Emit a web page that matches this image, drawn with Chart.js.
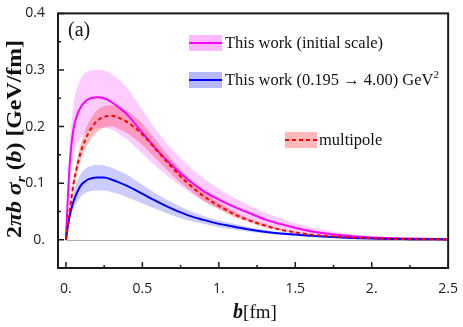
<!DOCTYPE html>
<html>
<head>
<meta charset="utf-8">
<script src="https://cdn.jsdelivr.net/npm/chart.js@4.4.1/dist/chart.umd.min.js"></script>
<style>
html, body { margin: 0; padding: 0; background: #fff; }
</style>
</head>
<body>
<canvas id="myChart" width="463" height="327"></canvas>
<script>
// impact parameter b [fm]
const bValues = [0, 0.0125, 0.025, 0.0375, 0.05, 0.075, 0.1, 0.125, 0.15, 0.2, 0.25, 0.3, 0.35, 0.4, 0.5, 0.6, 0.7, 0.8, 0.9, 1.0, 1.1, 1.2, 1.3, 1.4, 1.5, 1.6, 1.8, 2.0, 2.25, 2.5];

// This work (initial scale)
const initialCentral = [0, 0.075, 0.135, 0.172, 0.197, 0.222, 0.236, 0.244, 0.249, 0.252, 0.250, 0.243, 0.233, 0.221, 0.189, 0.157, 0.130, 0.106, 0.086, 0.071, 0.058, 0.047, 0.036, 0.028, 0.021, 0.015, 0.008, 0.004, 0.002, 0.001];
const initialUpper = [0, 0.095, 0.170, 0.210, 0.240, 0.270, 0.286, 0.294, 0.298, 0.300, 0.299, 0.292, 0.282, 0.268, 0.229, 0.190, 0.158, 0.131, 0.108, 0.090, 0.074, 0.060, 0.048, 0.038, 0.029, 0.022, 0.012, 0.006, 0.003, 0.0012];
const initialLower = [0, 0.055, 0.100, 0.130, 0.150, 0.170, 0.181, 0.188, 0.192, 0.197, 0.198, 0.195, 0.187, 0.177, 0.152, 0.127, 0.105, 0.085, 0.068, 0.055, 0.044, 0.035, 0.027, 0.020, 0.015, 0.011, 0.006, 0.003, 0.001, 0.0005];

// multipole
const multipoleCentral = [0, 0.028, 0.052, 0.077, 0.100, 0.132, 0.158, 0.176, 0.190, 0.209, 0.217, 0.219, 0.215, 0.208, 0.186, 0.156, 0.126, 0.099, 0.077, 0.060, 0.045, 0.034, 0.025, 0.018, 0.013, 0.009, 0.005, 0.0025, 0.001, 0.0005];
const multipoleUpper = [0, 0.031, 0.058, 0.085, 0.110, 0.145, 0.172, 0.192, 0.208, 0.228, 0.236, 0.238, 0.235, 0.228, 0.205, 0.172, 0.139, 0.109, 0.085, 0.066, 0.050, 0.037, 0.028, 0.020, 0.014, 0.010, 0.0055, 0.003, 0.0011, 0.0006];
const multipoleLower = [0, 0.025, 0.046, 0.069, 0.090, 0.119, 0.144, 0.161, 0.172, 0.190, 0.198, 0.200, 0.195, 0.188, 0.167, 0.140, 0.113, 0.089, 0.069, 0.054, 0.040, 0.031, 0.022, 0.016, 0.012, 0.008, 0.0045, 0.002, 0.0009, 0.0004];

// This work (0.195 -> 4.00) GeV^2
const evolvedCentral = [0, 0.024, 0.043, 0.057, 0.068, 0.085, 0.097, 0.103, 0.107, 0.110, 0.110, 0.106, 0.101, 0.095, 0.081, 0.067, 0.054, 0.043, 0.035, 0.028, 0.023, 0.018, 0.014, 0.011, 0.009, 0.007, 0.004, 0.002, 0.001, 0.0005];
const evolvedUpper = [0, 0.027, 0.050, 0.068, 0.085, 0.104, 0.118, 0.125, 0.129, 0.132, 0.131, 0.127, 0.121, 0.115, 0.097, 0.080, 0.065, 0.052, 0.042, 0.034, 0.028, 0.022, 0.017, 0.013, 0.011, 0.008, 0.005, 0.003, 0.0015, 0.0007];
const evolvedLower = [0, 0.020, 0.036, 0.047, 0.055, 0.068, 0.077, 0.082, 0.085, 0.087, 0.087, 0.084, 0.080, 0.075, 0.064, 0.053, 0.043, 0.034, 0.028, 0.022, 0.018, 0.014, 0.011, 0.009, 0.007, 0.005, 0.003, 0.0015, 0.0007, 0.0003];

// axes
const xTicks = [0, 0.5, 1, 1.5, 2, 2.5];
const xTickLabels = ['0.', '0.5', '1.', '1.5', '2.', '2.5'];
const xMinorTicks = [0.25, 0.75, 1.25, 1.75, 2.25];
const yTicks = [0, 0.1, 0.2, 0.3, 0.4];
const yTickLabels = ['0.', '0.1', '0.2', '0.3', '0.4'];
const yMinorTicks = [0.05, 0.15, 0.25, 0.35];

const PINK = 'rgba(255, 0, 255, 0.2)';
const SALMON = 'rgba(255, 0, 0, 0.25)';
const LILAC = 'rgba(0, 0, 255, 0.2)';
const SERIF = '"Liberation Serif", "DejaVu Serif", serif';
const SANS = '"Open Sans", "Noto Sans", sans-serif';

function points(ys) {
    return bValues.map((b, i) => ({ x: b, y: ys[i] }));
}

function band(ys, color, fill, order) {
    return {
        data: points(ys),
        borderWidth: 0,
        backgroundColor: color,
        fill: fill,
        pointRadius: 0,
        cubicInterpolationMode: 'monotone',
        order
    };
}

function line(ys, color, order, dash) {
    return {
        data: points(ys),
        borderColor: color,
        borderWidth: 2,
        borderDash: dash || [],
        fill: false,
        pointRadius: 0,
        cubicInterpolationMode: 'monotone',
        order
    };
}

// draws text pieces one after another: [text, font, dy]
function drawRich(ctx, pieces, x, y) {
    let cx = x;
    pieces.forEach(([t, font, dy]) => {
        ctx.font = font;
        ctx.fillText(t, cx, y + (dy || 0));
        cx += ctx.measureText(t).width;
    });
    return cx - x;
}

function richWidth(ctx, pieces) {
    let w = 0;
    pieces.forEach(([t, font]) => { ctx.font = font; w += ctx.measureText(t).width; });
    return w;
}

const decorPlugin = {
    id: 'decor',
    beforeDatasetsDraw(chart) {
        const { ctx, scales: { x, y } } = chart;
        ctx.save();
        ctx.strokeStyle = '#b0b0b0';
        ctx.lineWidth = 1;
        const y0 = Math.round(y.getPixelForValue(0)) + 0.5;
        ctx.beginPath();
        ctx.moveTo(x.getPixelForValue(0), y0);
        ctx.lineTo(x.getPixelForValue(2.5), y0);
        ctx.stroke();
        ctx.restore();
    },
    afterDraw(chart) {
        const { ctx, chartArea: a, scales: { x, y } } = chart;
        ctx.save();
        // frame
        ctx.strokeStyle = '#1a1a1a';
        ctx.lineWidth = 2;
        ctx.strokeRect(a.left, a.top, a.right - a.left, a.bottom - a.top);

        // inward ticks
        ctx.lineWidth = 1.5;
        ctx.beginPath();
        xTicks.forEach(v => { const px = x.getPixelForValue(v); ctx.moveTo(px, a.bottom); ctx.lineTo(px, a.bottom - 6); });
        xMinorTicks.forEach(v => { const px = x.getPixelForValue(v); ctx.moveTo(px, a.bottom); ctx.lineTo(px, a.bottom - 3); });
        yTicks.forEach(v => { const py = y.getPixelForValue(v); ctx.moveTo(a.left, py); ctx.lineTo(a.left + 6, py); });
        yMinorTicks.forEach(v => { const py = y.getPixelForValue(v); ctx.moveTo(a.left, py); ctx.lineTo(a.left + 3, py); });
        ctx.stroke();

        ctx.fillStyle = '#111';
        ctx.textBaseline = 'alphabetic';

        // panel label
        ctx.font = '20px ' + SERIF;
        ctx.fillText('(a)', 68, 36);

        // x title
        const xt = [['b', 'bold italic 20px ' + SERIF], ['[fm]', '19px ' + SERIF]];
        drawRich(ctx, xt, 255 - richWidth(ctx, xt) / 2, 318);

        // y title (rotated, stretched to the reference length)
        const yt = [
            ['2', 'bold 20px ' + SERIF],
            ['\u03c0b \u03c3', 'bold italic 20px ' + SERIF],
            ['r', 'bold italic 13px ' + SERIF, 4],
            [' (', 'bold 20px ' + SERIF],
            ['b', 'bold italic 20px ' + SERIF],
            [') [GeV/fm]', 'bold 20px ' + SERIF]
        ];
        const yw = richWidth(ctx, yt);
        ctx.save();
        ctx.translate(21, 139);
        ctx.rotate(-Math.PI / 2);
        ctx.scale(198 / yw, 1);
        drawRich(ctx, yt, -yw / 2, 0);
        ctx.restore();

        // legend
        const lf = '16.5px ' + SERIF;
        ctx.textBaseline = 'middle';
        // entry 1
        ctx.fillStyle = 'rgba(255, 0, 255, 0.28)';
        ctx.fillRect(189, 35, 33, 16);
        ctx.strokeStyle = '#ff00ff';
        ctx.lineWidth = 2;
        ctx.beginPath(); ctx.moveTo(189, 43); ctx.lineTo(222, 43); ctx.stroke();
        ctx.fillStyle = '#111';
        drawRich(ctx, [['This work (initial scale)', lf]], 225, 44);
        // entry 2
        ctx.fillStyle = 'rgba(0, 0, 255, 0.28)';
        ctx.fillRect(189, 72, 33, 16);
        ctx.strokeStyle = '#0000ff';
        ctx.beginPath(); ctx.moveTo(189, 80); ctx.lineTo(222, 80); ctx.stroke();
        ctx.fillStyle = '#111';
        drawRich(ctx, [['This work (0.195 \u2192 4.00) GeV', lf], ['2', '11px ' + SERIF, -6]], 225, 81);
        // entry 3
        ctx.fillStyle = 'rgba(255, 0, 0, 0.28)';
        ctx.fillRect(285, 132, 32, 16);
        ctx.strokeStyle = '#ff0000';
        ctx.setLineDash([4, 3]);
        ctx.beginPath(); ctx.moveTo(285, 140); ctx.lineTo(317, 140); ctx.stroke();
        ctx.setLineDash([]);
        ctx.fillStyle = '#111';
        drawRich(ctx, [['multipole', lf]], 319, 141);
        ctx.restore();
    }
};

const ctx = document.getElementById('myChart').getContext('2d');
new Chart(ctx, {
    type: 'line',
    data: {
        datasets: [
            band(initialUpper, PINK, '+1', 10),
            band(initialLower, 'transparent', false, 10),
            band(multipoleUpper, SALMON, '+1', 9),
            band(multipoleLower, 'transparent', false, 9),
            band(evolvedUpper, LILAC, '+1', 8),
            band(evolvedLower, 'transparent', false, 8),
            line(initialCentral, '#ff00ff', 2),
            line(evolvedCentral, '#0000ff', 1),
            line(multipoleCentral, '#ff0000', 0, [4, 3])
        ]
    },
    options: {
        responsive: false,
        animation: false,
        devicePixelRatio: 1,
        layout: { padding: { top: 9, right: 11, left: 0, bottom: 0 } },
        plugins: { legend: { display: false }, tooltip: { enabled: false } },
        scales: {
            x: {
                type: 'linear',
                min: -0.052,
                max: 2.5,
                grid: { display: false },
                border: { display: false },
                afterBuildTicks: s => { s.ticks = xTicks.map(v => ({ value: v })); },
                afterFit: s => { s.height = 59; },
                ticks: {
                    autoSkip: false,
                    maxRotation: 0,
                    padding: 5,
                    color: '#222',
                    font: { family: SANS, size: 14 },
                    callback: (v, i) => xTickLabels[i]
                }
            },
            y: {
                min: -0.05,
                max: 0.4,
                grid: { display: false },
                border: { display: false },
                afterBuildTicks: s => { s.ticks = yTicks.map(v => ({ value: v })); },
                afterFit: s => { s.width = 58; },
                ticks: {
                    autoSkip: false,
                    padding: 5,
                    color: '#222',
                    font: { family: SANS, size: 14 },
                    callback: (v, i) => yTickLabels[i]
                }
            }
        }
    },
    plugins: [decorPlugin]
});
</script>
</body>
</html>
